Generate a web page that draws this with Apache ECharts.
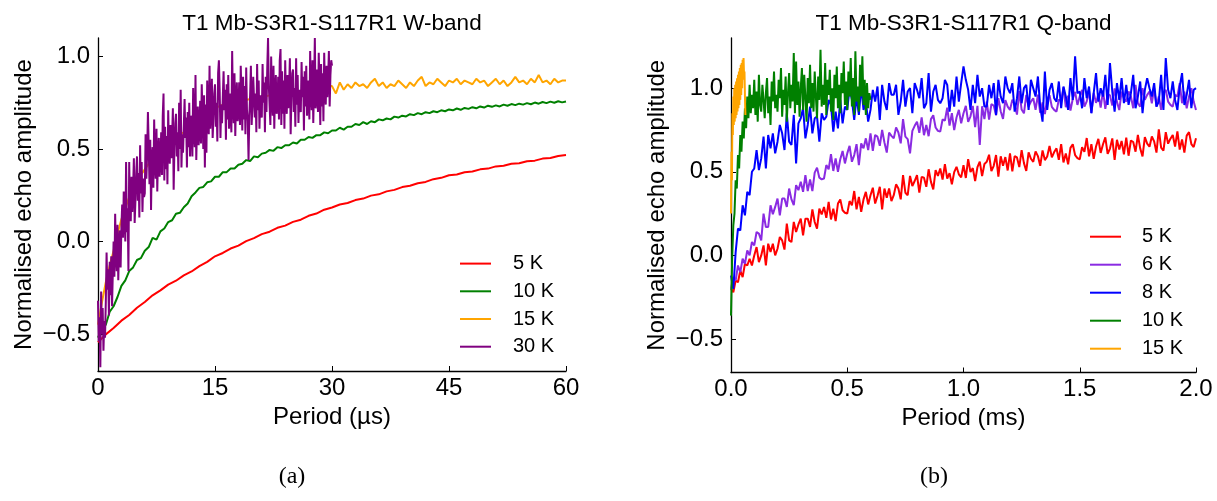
<!DOCTYPE html>
<html>
<head>
<meta charset="utf-8">
<script src="https://cdn.jsdelivr.net/npm/echarts@6/dist/echarts.min.js"></script>
<style>
html,body{margin:0;padding:0;background:#fff;}
#c{width:1217px;height:501px;}
</style>
</head>
<body>
<div id="c"></div>
<script>
// ---------- Panel (a): W-band, x in microseconds ----------
const W_TITLE = 'T1 Mb-S3R1-S117R1 W-band';
const W_XTICKS = [0, 15, 30, 45, 60];
const W_YTICKS = [-0.5, 0, 0.5, 1.0];
const W_NAMES = ['5 K', '10 K', '15 K', '30 K'];

// 5 K, sampled every 1 us from 0
const W5_STEP = 1;
const W5 = [
-0.545,-0.502,-0.468,-0.428,-0.397,-0.358,-0.327,-0.291,-0.264,-0.233,
-0.212,-0.183,-0.162,-0.133,-0.110,-0.080,-0.062,-0.038,-0.022,0.002,
0.018,0.040,0.053,0.074,0.086,0.106,0.118,0.139,0.151,0.172,
0.184,0.200,0.208,0.224,0.232,0.248,0.255,0.271,0.279,0.294,
0.301,0.315,0.322,0.337,0.344,0.358,0.362,0.374,0.378,0.390,
0.394,0.406,0.409,0.420,0.423,0.434,0.437,0.448,0.451,0.462,
0.467];

// 10 K, every 0.5 us
const W10_STEP = 0.5;
const W10 = [
-0.52,-0.47,-0.45,-0.38,-0.35,-0.30,-0.24,-0.21,-0.16,-0.14,
-0.10,-0.09,-0.05,-0.03,0.02,0.01,0.055,0.07,0.105,0.115,
0.15,0.155,0.185,0.205,0.245,0.265,0.29,0.295,0.32,0.325,
0.35,0.35,0.375,0.375,0.395,0.395,0.415,0.42,0.44,0.435,
0.46,0.455,0.475,0.48,0.495,0.49,0.51,0.505,0.52,0.52,
0.535,0.53,0.55,0.55,0.565,0.56,0.575,0.575,0.59,0.585,
0.60,0.60,0.615,0.605,0.62,0.62,0.635,0.63,0.645,0.635,
0.65,0.645,0.66,0.655,0.665,0.66,0.675,0.67,0.68,0.676,
0.688,0.683,0.694,0.688,0.699,0.694,0.704,0.699,0.709,0.704,
0.714,0.709,0.719,0.712,0.722,0.717,0.726,0.72,0.73,0.724,
0.734,0.728,0.736,0.73,0.74,0.734,0.743,0.737,0.745,0.74,
0.748,0.742,0.751,0.745,0.754,0.748,0.756,0.75,0.758,0.752,
0.757];

// 15 K, every 0.5 us
const W15_STEP = 0.5;
const W15 = [
-0.45,-0.33,-0.22,-0.13,-0.05,0.04,0.12,0.18,0.24,0.28,
0.32,0.36,0.39,0.42,0.45,0.47,0.49,0.51,0.53,0.55,
0.56,0.58,0.59,0.61,0.62,0.64,0.66,0.68,0.69,0.71,
0.72,0.73,0.74,0.745,0.75,0.755,0.76,0.76,0.765,0.77,
0.77,0.775,0.78,0.785,0.79,0.79,0.795,0.80,0.80,0.805,
0.81,0.81,0.815,0.82,0.82,0.825,0.83,0.83,0.835,0.84,
0.84,0.80,0.86,0.82,0.85,0.83,0.86,0.84,0.85,0.83,
0.86,0.88,0.84,0.86,0.83,0.85,0.84,0.87,0.85,0.83,
0.86,0.84,0.87,0.89,0.84,0.86,0.85,0.88,0.86,0.84,
0.87,0.86,0.88,0.85,0.87,0.86,0.85,0.88,0.86,0.87,
0.84,0.86,0.88,0.85,0.87,0.84,0.86,0.89,0.86,0.87,
0.85,0.88,0.86,0.90,0.86,0.87,0.85,0.88,0.86,0.87,
0.87];

// 30 K, every 0.1 us (0..30)
const W30_STEP = 0.1;
const W30 = [
-0.32,-0.54,-0.41,-0.68,-0.27,-0.50,-0.36,-0.59,-0.43,-0.52,
-0.33,-0.06,-0.26,-0.15,-0.40,-0.11,-0.29,-0.08,-0.35,-0.17,
0.00,-0.19,0.15,-0.07,-0.16,0.09,-0.21,-0.01,0.06,-0.14,
0.08,0.20,0.02,0.27,0.14,0.00,0.43,0.05,0.18,-0.16,
0.43,0.19,0.11,0.35,0.16,0.29,0.45,0.10,0.22,0.37,
0.46,0.22,0.37,0.13,0.52,0.26,0.43,0.16,0.34,0.24,
0.26,0.58,0.34,0.47,0.70,0.52,0.31,0.55,0.17,0.45,
0.51,0.29,0.66,0.43,0.34,0.61,0.27,0.48,0.56,0.35,
0.43,0.59,0.36,0.68,0.80,0.33,0.62,0.39,0.57,0.31,
0.71,0.50,0.42,0.63,0.45,0.56,0.72,0.28,0.51,0.64,
0.69,0.46,0.59,0.38,0.75,0.50,0.82,0.40,0.58,0.48,
0.48,0.77,0.56,0.67,0.40,0.70,0.51,0.75,0.46,0.65,
0.68,0.46,0.83,0.60,0.51,0.90,0.44,0.65,0.73,0.52,
0.60,0.76,0.53,0.85,0.68,0.50,0.79,0.40,0.74,0.48,
0.87,0.66,0.58,0.95,0.61,0.72,0.88,0.56,0.67,0.80,
0.85,0.62,0.75,0.54,0.91,0.98,0.82,0.56,0.74,0.64,
0.63,0.92,0.71,0.82,0.55,0.85,0.66,0.90,0.61,0.80,
0.81,0.59,1.03,0.73,0.64,0.91,0.57,0.78,0.86,0.65,
0.70,0.86,0.63,0.95,0.78,0.60,0.89,0.66,0.84,0.58,
0.94,0.71,0.65,0.44,0.68,0.79,0.95,0.63,0.74,0.89,
0.90,0.67,0.80,0.59,0.96,0.71,0.87,0.61,0.79,0.69,
0.67,0.96,0.75,0.86,0.59,0.89,0.70,0.94,1.10,0.84,
0.85,0.63,1.00,0.77,0.68,0.95,0.61,0.82,0.90,0.69,
0.73,0.89,0.66,0.98,1.04,0.63,0.92,0.69,0.87,0.61,
0.98,0.77,0.69,0.90,0.72,0.83,0.99,0.58,0.78,0.91,
0.93,0.70,0.83,0.62,0.99,0.74,0.90,0.64,0.82,0.72,
0.70,0.97,0.78,0.89,0.60,0.92,0.73,0.95,0.68,0.87,
0.88,0.66,1.03,0.80,0.71,0.98,0.64,0.85,1.10,0.72,
0.77,0.93,0.70,1.02,0.85,0.63,0.96,0.73,0.91,0.65,
1.02,0.81,0.74,0.95,0.78,0.87,1.03,0.73,0.90,0.98,
0.95];

// ---------- Panel (b): Q-band, x in milliseconds ----------
const Q_TITLE = 'T1 Mb-S3R1-S117R1 Q-band';
const Q_XTICKS = [0, 0.5, 1.0, 1.5, 2.0];
const Q_YTICKS = [-0.5, 0, 0.5, 1.0];
const Q_NAMES = ['5 K', '6 K', '8 K', '10 K', '15 K'];

// 5 K, every 0.01 ms
const Q5_STEP = 0.01;
const Q5 = [
-0.20,-0.22,-0.15,-0.16,-0.09,-0.13,-0.05,-0.06,-0.02,-0.06,
0.00,0.05,-0.04,0.00,0.06,-0.06,0.07,0.02,0.07,0.00,
0.04,0.11,0.09,0.035,0.19,0.09,0.08,0.20,0.14,0.185,
0.22,0.12,0.22,0.22,0.17,0.275,0.20,0.16,0.28,0.245,
0.29,0.225,0.32,0.215,0.28,0.205,0.31,0.335,0.27,0.255,
0.25,0.325,0.30,0.385,0.275,0.35,0.26,0.335,0.38,0.305,
0.36,0.405,0.31,0.355,0.41,0.275,0.40,0.345,0.40,0.325,
0.36,0.425,0.40,0.335,0.48,0.375,0.36,0.475,0.415,0.445,
0.48,0.375,0.47,0.465,0.41,0.515,0.44,0.395,0.51,0.475,
0.52,0.453,0.546,0.459,0.492,0.425,0.498,0.53,0.485,0.467,
0.54,0.463,0.576,0.499,0.522,0.445,0.528,0.561,0.474,0.547,
0.56,0.602,0.504,0.536,0.60,0.471,0.593,0.536,0.588,0.508,
0.61,0.502,0.594,0.586,0.528,0.63,0.552,0.505,0.616,0.578,
0.56,0.622,0.594,0.536,0.628,0.57,0.592,0.655,0.586,0.618,
0.64,0.572,0.665,0.556,0.61,0.545,0.643,0.665,0.60,0.582,
0.575,0.647,0.619,0.702,0.592,0.665,0.577,0.651,0.697,0.613,
0.665,0.706,0.607,0.639,0.70,0.571,0.691,0.633,0.684,0.605,
0.705,0.596,0.687,0.678,0.62,0.721,0.64,0.592,0.708,0.668,
0.65,0.711,0.682,0.615,0.754,0.645,0.626,0.737,0.668,0.698,
0.72,0.651,0.742,0.633,0.694,0.615,0.716,0.737,0.666,0.648,
0.70];

// 6 K, every 0.01 ms
const Q6_STEP = 0.01;
const Q6 = [
-0.20,-0.13,-0.15,-0.06,-0.10,-0.02,-0.05,0.03,0.00,0.08,
0.06,0.14,0.13,0.09,0.25,0.17,0.17,0.30,0.246,0.29,
0.34,0.24,0.34,0.34,0.29,0.40,0.335,0.30,0.42,0.39,
0.44,0.38,0.48,0.385,0.455,0.385,0.495,0.525,0.465,0.455,
0.46,0.54,0.515,0.605,0.505,0.58,0.50,0.575,0.625,0.55,
0.61,0.655,0.56,0.60,0.665,0.54,0.67,0.64,0.70,0.63,
0.73,0.625,0.72,0.71,0.655,0.75,0.675,0.615,0.735,0.715,
0.70,0.765,0.735,0.67,0.815,0.71,0.695,0.61,0.745,0.775,
0.80,0.733,0.826,0.719,0.78,0.713,0.815,0.838,0.765,0.745,
0.74,0.813,0.806,0.883,0.776,0.85,0.75,0.825,0.87,0.79,
0.85,0.894,0.798,0.832,0.894,0.767,0.894,0.66,0.892,0.815,
0.92,0.812,0.904,0.896,0.838,0.94,0.862,0.816,0.928,0.89,
0.87,0.931,0.902,0.842,0.982,0.872,0.85,0.96,0.89,0.92,
0.94,0.871,0.962,0.853,0.914,0.845,0.937,0.958,0.888,0.87,
0.86,0.932,0.924,1.005,0.886,0.955,0.866,0.937,0.978,0.90,
0.95,0.99,0.89,0.921,0.982,0.852,0.972,0.912,0.964,0.884,
0.985,0.876,0.966,0.957,0.897,0.998,0.918,0.869,0.98,0.94,
0.92,0.98,0.95,0.88,1.02,0.91,0.89,1.00,0.93,0.96,
0.98,0.91,1.0,0.89,0.95,0.87,0.97,0.99,0.92,0.90,
0.89,0.96,0.95,1.03,0.91,0.98,0.88,0.95,1.0,0.92,
0.87];

// 8 K, every 0.01 ms
const Q8_STEP = 0.01;
const Q8 = [
-0.12,-0.20,0.02,0.16,0.15,0.30,0.24,0.38,0.36,0.50,
0.52,0.63,0.51,0.58,0.71,0.52,0.72,0.64,0.73,0.61,
0.68,0.78,0.73,0.63,0.85,0.68,0.66,0.84,0.55,0.79,
0.82,0.88,0.70,0.78,0.89,0.73,0.82,0.83,0.68,0.85,
0.81,0.83,0.93,0.90,0.74,0.86,0.76,0.93,0.79,0.89,
0.87,1.00,0.93,0.81,0.95,0.84,1.01,0.87,0.92,0.80,
0.87,0.99,0.92,1.01,0.81,1.02,0.92,0.87,1.03,0.96,
0.96,1.02,0.84,0.92,1.05,0.89,0.98,1.00,0.85,1.03,
0.99,0.94,1.06,0.88,0.91,1.09,0.86,0.98,1.02,0.93,
0.91,0.94,1.05,1.02,0.86,0.99,0.89,1.07,0.92,1.03,
1.13,1.05,0.99,0.87,1.02,0.91,1.08,0.95,1.00,0.89,
0.89,1.02,0.94,1.03,0.84,1.05,0.95,0.91,1.07,1.00,
0.97,1.03,0.86,0.94,1.07,0.91,1.00,1.02,0.87,1.05,
1.00,0.95,1.07,0.89,0.80,1.10,0.87,0.99,1.03,0.94,
0.92,1.04,0.88,1.01,0.95,0.87,1.06,0.93,1.19,0.97,
0.98,0.88,1.06,0.94,1.01,0.85,0.97,1.09,0.92,1.00,
0.95,1.08,0.90,1.15,0.98,0.86,1.03,0.93,1.06,0.91,
1.02,0.90,0.97,1.08,0.88,0.95,1.04,0.85,0.99,1.06,
1.00,0.95,1.03,0.89,0.92,1.08,0.87,1.18,0.99,0.94,
1.04,0.93,0.87,1.01,1.09,0.90,0.96,1.05,0.88,0.99,
1.00];

// 10 K, every 0.005 ms (0..0.6)
const Q10_STEP = 0.005;
const Q10 = [
-0.36,-0.02,0.18,0.25,0.45,0.40,0.60,0.52,0.72,0.62,
0.80,0.70,0.88,0.76,0.95,0.82,1.02,0.85,0.96,0.88,
1.05,0.84,0.98,0.80,1.08,0.90,0.86,1.02,0.93,0.82,
0.97,1.06,0.85,0.95,0.78,1.04,0.92,1.10,0.88,0.96,
0.86,1.05,0.94,1.12,0.83,0.99,0.90,1.07,0.80,0.97,
1.09,0.88,1.02,0.92,1.21,0.85,1.16,0.90,1.04,0.83,
1.00,1.12,0.87,1.08,0.94,0.80,1.06,0.91,1.14,0.88,
1.03,0.86,1.10,0.95,0.82,1.07,0.93,1.23,0.89,1.02,
0.90,1.15,0.84,1.05,0.96,1.11,0.86,1.00,0.81,1.08,
0.94,1.13,0.88,1.02,0.85,1.09,0.97,1.16,0.90,1.04,
0.87,1.10,0.95,1.18,0.89,1.06,0.84,1.22,0.92,1.01,
0.86,1.14,0.95,1.19,0.90,1.05,0.84,1.03,0.88,0.97,
0.93];

// 15 K, every 0.002 ms (0..0.062)
const Q15_STEP = 0.002;
const Q15 = [
0.25,0.62,0.45,0.85,0.72,0.95,0.78,1.00,0.80,1.02,
0.82,1.04,0.84,1.06,0.86,1.08,0.88,1.10,0.90,1.12,
0.93,1.14,0.96,1.15,1.00,1.17,1.05,1.18,1.08,1.10,
0.95,0.84];

// ---------- build ----------
const toPairs = (arr, step) => arr.map((v, i) => [+(i * step).toFixed(4), v]);
const FONT = '"Liberation Sans", Arial, sans-serif';
const yFmt = v => (Math.abs(v) < 1e-9 ? '0.0' : (v < 0 ? '\u2212' : '') + Math.abs(v).toFixed(1));

function xAxisCfg(idx, min, max, interval, name, fmt) {
  return {
    gridIndex: idx, type: 'value', min: min, max: max, interval: interval,
    name: name, nameLocation: 'middle', nameGap: 30,
    nameTextStyle: { fontFamily: FONT, fontSize: 24, color: '#000' },
    axisLine: { show: true, onZero: false, lineStyle: { color: '#000', width: 1.3 } },
    axisTick: { show: true, inside: true, length: 5, lineStyle: { color: '#000', width: 1 } },
    axisLabel: { margin: 5, fontFamily: FONT, fontSize: 24, color: '#000', formatter: fmt },
    splitLine: { show: false }
  };
}
function yAxisCfg(idx, min, max, ticks) {
  return {
    gridIndex: idx, type: 'value', min: min, max: max,
    name: 'Normalised echo amplitude', nameLocation: 'middle', nameGap: 62,
    nameTextStyle: { fontFamily: FONT, fontSize: 24, color: '#000' },
    axisLine: { show: true, onZero: false, lineStyle: { color: '#000', width: 1.3 } },
    axisTick: { show: true, inside: true, length: 5, customValues: ticks, lineStyle: { color: '#000', width: 1 } },
    axisLabel: { margin: 8, fontFamily: FONT, fontSize: 24, color: '#000', customValues: ticks, formatter: yFmt },
    splitLine: { show: false }
  };
}
function line(name, color, data, xi) {
  return {
    type: 'line', name: name, xAxisIndex: xi, yAxisIndex: xi, data: data,
    showSymbol: false, symbol: 'none', silent: true,
    lineStyle: { color: color, width: 2 }, itemStyle: { color: color },
    animation: false
  };
}

const chart = echarts.init(document.getElementById('c'), null, { renderer: 'canvas' });
chart.setOption({
  animation: false,
  backgroundColor: '#fff',
  grid: [
    { left: 98, top: 38, width: 468, height: 333, containLabel: false, outerBoundsMode: 'none' },
    { left: 731, top: 38, width: 465, height: 334.5, containLabel: false, outerBoundsMode: 'none' }
  ],
  xAxis: [
    xAxisCfg(0, W_XTICKS[0], W_XTICKS[W_XTICKS.length - 1], W_XTICKS[1] - W_XTICKS[0], 'Period (\u00b5s)', v => String(v)),
    xAxisCfg(1, Q_XTICKS[0], Q_XTICKS[Q_XTICKS.length - 1], Q_XTICKS[1] - Q_XTICKS[0], 'Period (ms)', v => v.toFixed(1))
  ],
  yAxis: [
    yAxisCfg(0, -0.7, 1.1, W_YTICKS),
    yAxisCfg(1, -0.7, 1.3, Q_YTICKS)
  ],
  legend: [
    {
      data: W_NAMES, orient: 'vertical', left: 455, top: 248.6, itemWidth: 31, itemHeight: 2,
      itemGap: 7.7, icon: 'rect', selectedMode: false,
      textStyle: { fontFamily: FONT, fontSize: 20, color: '#000', lineHeight: 20, padding: [0, 0, 0, 17] }
    },
    {
      data: Q_NAMES, orient: 'vertical', left: 1085, top: 221.7, itemWidth: 31, itemHeight: 2,
      itemGap: 8, icon: 'rect', selectedMode: false,
      textStyle: { fontFamily: FONT, fontSize: 20, color: '#000', lineHeight: 20, padding: [0, 0, 0, 16] }
    }
  ],
  graphic: [
    { type: 'text', x: 332, y: 24, silent: true,
      style: { text: W_TITLE, font: '22.5px ' + FONT, fill: '#000', align: 'center', verticalAlign: 'middle', textAlign: 'center', textVerticalAlign: 'middle' } },
    { type: 'text', x: 963.5, y: 24, silent: true,
      style: { text: Q_TITLE, font: '22.5px ' + FONT, fill: '#000', align: 'center', verticalAlign: 'middle', textAlign: 'center', textVerticalAlign: 'middle' } },
    { type: 'text', x: 292, y: 477, silent: true,
      style: { text: '(a)', font: '24px "Liberation Serif", "Times New Roman", serif', fill: '#000', align: 'center', verticalAlign: 'middle', textAlign: 'center', textVerticalAlign: 'middle' } },
    { type: 'text', x: 934, y: 477, silent: true,
      style: { text: '(b)', font: '24px "Liberation Serif", "Times New Roman", serif', fill: '#000', align: 'center', verticalAlign: 'middle', textAlign: 'center', textVerticalAlign: 'middle' } }
  ],
  series: [
    line('5 K', '#ff0000', toPairs(W5, W5_STEP), 0),
    line('10 K', '#008000', toPairs(W10, W10_STEP), 0),
    line('15 K', '#ffa500', toPairs(W15, W15_STEP), 0),
    line('30 K', '#800080', toPairs(W30, W30_STEP), 0),
    line('5 K', '#ff0000', toPairs(Q5, Q5_STEP), 1),
    line('6 K', '#8a2be2', toPairs(Q6, Q6_STEP), 1),
    line('8 K', '#0000ff', toPairs(Q8, Q8_STEP), 1),
    line('10 K', '#008000', toPairs(Q10, Q10_STEP), 1),
    line('15 K', '#ffa500', toPairs(Q15, Q15_STEP), 1)
  ]
});
</script>
</body>
</html>
